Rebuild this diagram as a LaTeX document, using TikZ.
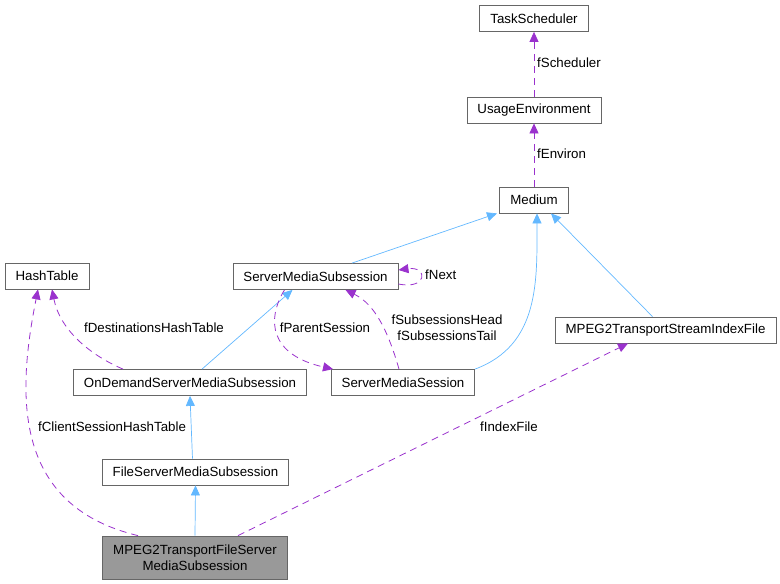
\documentclass[tikz,border=0pt]{standalone}
\usepackage{fontspec}
\setmainfont{Liberation Sans}
\usetikzlibrary{arrows.meta}
\definecolor{usecol}{HTML}{9A32CD}
\definecolor{inhcol}{HTML}{63B8FF}
\definecolor{boxcol}{HTML}{666666}
\definecolor{curcol}{HTML}{999999}
\tikzset{
  cls/.style={draw=boxcol,line width=0.8pt,minimum height=26pt,inner xsep=10.5pt,inner ysep=2pt},
  inh/.style={draw=inhcol,line width=0.7pt,-{Triangle[length=10pt,width=9pt]}},
  uses/.style={draw=usecol,line width=0.8pt,dash pattern=on 7pt off 5pt,-{Triangle[length=10pt,width=9pt]}},
  lbl/.style={inner sep=0pt}
}
\begin{document}
\begin{tikzpicture}[x=1pt,y=-1pt,font=\fontsize{13.3}{16}\selectfont]
    \useasboundingbox (0,0) rectangle (780,584);
    %Classes
    \node[cls] (TaskScheduler) at (534,18.5) {TaskScheduler};
    \node[cls] (UsageEnvironment) at (534,110) {UsageEnvironment};
    \node[cls] (Medium) at (534,200) {Medium};
    \node[cls] (HashTable) at (47,276) {HashTable};
    \node[cls] (SMSub) at (315.5,276.5) {ServerMediaSubsession};
    \node[cls] (OnDemand) at (190,382.5) {OnDemandServerMediaSubsession};
    \node[cls] (SMSession) at (403,382.5) {ServerMediaSession};
    \node[cls] (IndexFile) at (665.5,330) {MPEG2TransportStreamIndexFile};
    \node[cls] (FileSub) at (195.5,472) {FileServerMediaSubsession};
    \node[cls,fill=curcol,minimum height=43pt,align=center] (TSFileSub) at (195,557.5)
      {MPEG2TransportFileServer\\MediaSubsession};

    %Inheritance
    \draw[inh] ([xshift=36.5]SMSub.north) -- ([xshift=-37]Medium.south);
    \draw[inh] ([xshift=12]OnDemand.north) -- ([xshift=-23]SMSub.south);
    \draw[inh] ([xshift=72]SMSession.north) .. controls (540,345) and (537,280) .. ([xshift=3]Medium.south);
    \draw[inh] ([xshift=-13]IndexFile.north) -- ([xshift=17]Medium.south);
    \draw[inh] ([xshift=-3]FileSub.north) -- (OnDemand.south);
    \draw[inh] (TSFileSub.north) -- (FileSub.south);

    %Members
    \draw[uses] (UsageEnvironment.north) -- (TaskScheduler.south);
    \node[lbl,anchor=west] (LScheduler) at (537,63) {fScheduler};
    \draw[uses] (Medium.north) -- (UsageEnvironment.south);
    \node[lbl,anchor=west] (LEnviron) at (537,154) {fEnviron};
    \draw[uses] ([yshift=-7.5]SMSub.east) .. controls (428,290) and (428,266) .. ([yshift=6.5]SMSub.east);
    \node[lbl,anchor=west] (LNext) at (425,275) {fNext};
    \draw[uses] ([xshift=-67]OnDemand.north) .. controls (90,355) and (60,330) .. ([xshift=5]HashTable.south);
    \node[lbl] (LDest) at (154,328) {fDestinationsHashTable};
    \draw[uses] ([xshift=-57]TSFileSub.north) .. controls (10,505) and (18,390) .. ([xshift=-9]HashTable.south);
    \node[lbl] (LClient) at (112,427) {fClientSessionHashTable};
    \draw[uses] ([xshift=-31]SMSub.south) .. controls (266,320) and (270,355) .. ([xshift=-70]SMSession.north);
    \node[lbl] (LParent) at (325,328) {fParentSession};
    \draw[uses] ([xshift=-4]SMSession.north) .. controls (385,320) and (370,302) .. ([xshift=30]SMSub.south);
    \node[lbl,align=center] (LSubs) at (447,328) {fSubsessionsHead\\fSubsessionsTail};
    \draw[uses] ([xshift=43]TSFileSub.north) -- ([xshift=-37.5]IndexFile.south);
    \node[lbl] (LIndex) at (509,427) {fIndexFile};
  \end{tikzpicture}
\end{document}
